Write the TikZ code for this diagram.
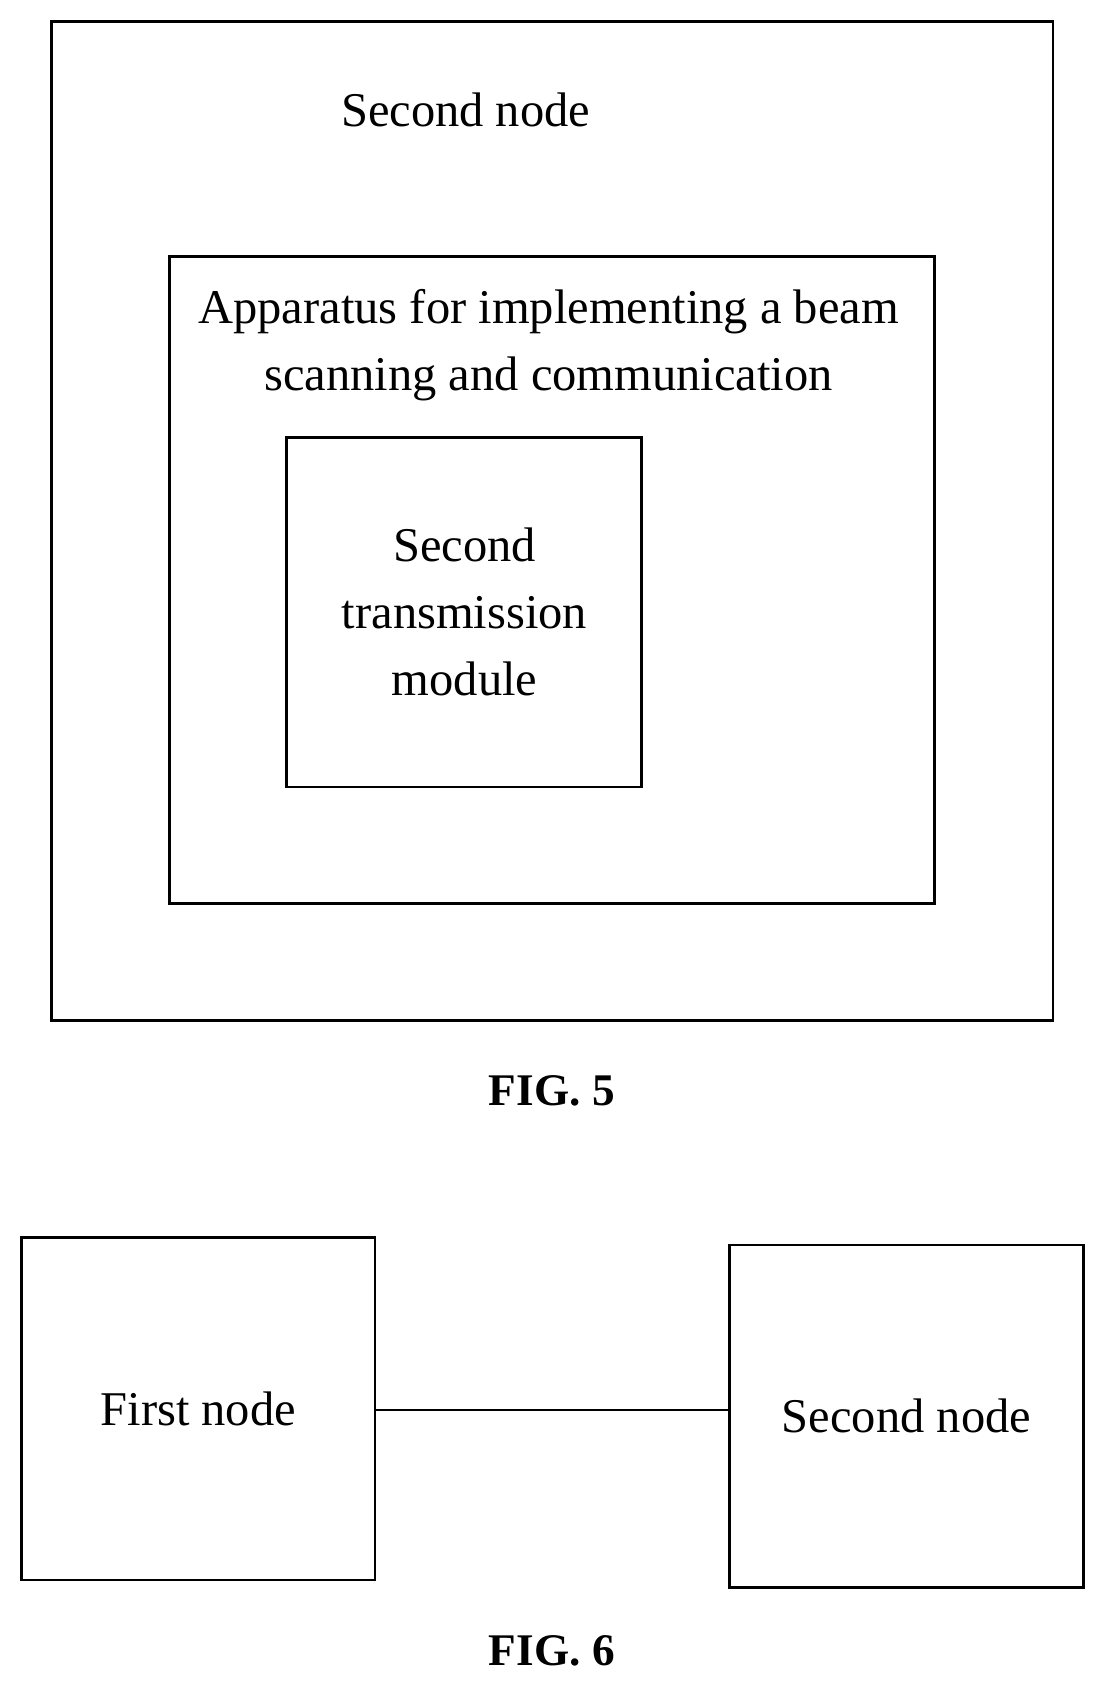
\documentclass[tikz,border=0pt]{standalone}
\usepackage{fontspec}
\setmainfont{Liberation Serif}
\usepackage{tikz}
\usetikzlibrary{positioning}

\tikzset{
    blk/.style={draw, line width=1.2pt},
    lbl/.style={font=\fontsize{22.5}{31}\selectfont, align=center},
    figcap/.style={font=\fontsize{21}{24}\selectfont\bfseries}
}

\begin{document}
\begin{tikzpicture}[x=0.5pt, y=-0.5pt]
    \useasboundingbox (0,0) rectangle (1024,1567);

    % FIG. 5
    \draw[blk] (48,20) rectangle (977,947);
    \draw[blk] (157,238) rectangle (867,838);
    \draw[blk] (266,406) rectangle (595,730);
    \node[lbl] (sn) at (432,102) {Second node};
    \node[lbl] (app) at (509,320) {Apparatus for implementing a beam\\scanning and communication};
    \node[lbl] (stm) at (431,568) {Second\\transmission\\module};
    \node[figcap] (f5) at (512,1012) {FIG. 5};

    % FIG. 6
    \node[blk, minimum width=164pt, minimum height=159pt, lbl] (first) at (184,1307) {First node};
    \node[blk, minimum width=164pt, minimum height=159pt, lbl] (second) at (841,1314) {Second node};
    \draw[line width=1.2pt] (first.east |- 0,1308) -- (second.west |- 0,1308);
    \node[figcap] (f6) at (512,1532) {FIG. 6};
\end{tikzpicture}
\end{document}
